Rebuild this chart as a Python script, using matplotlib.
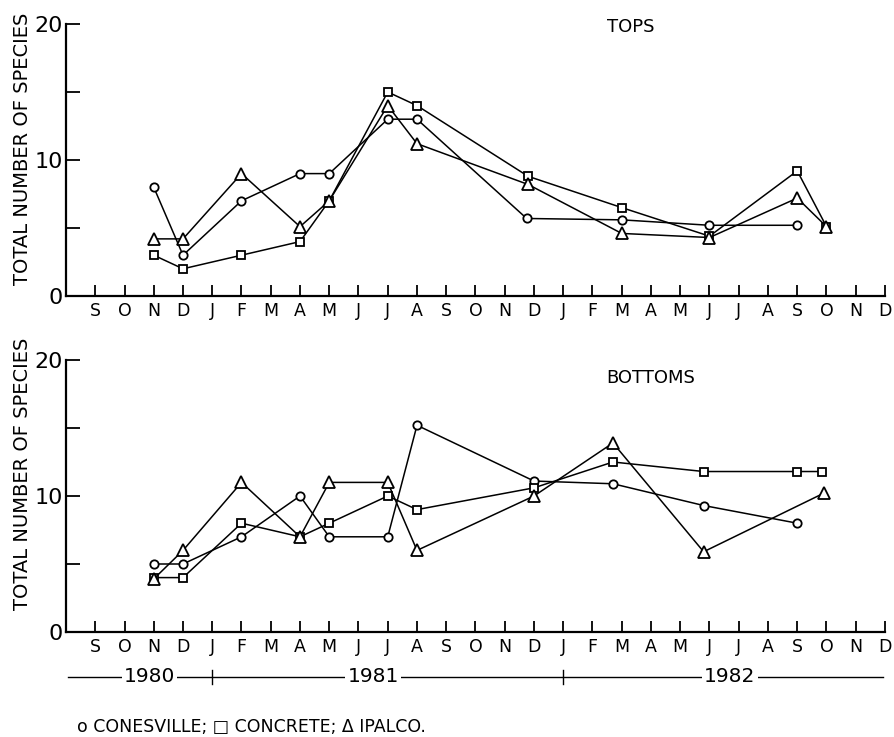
import numpy as np
import matplotlib
matplotlib.use("Agg")
import matplotlib.pyplot as plt

plt.rcParams['font.family'] = ['DejaVu Sans']

# month axis: Sep 1980 (index 0) .. Dec 1982 (index 27)
months = list("SONDJFMAMJJASONDJFMAMJJASOND")

# ---- TOPS ----
top_cones_x = [2, 3, 5, 7, 8, 10, 11, 14.75, 18, 21, 24]
top_cones_y = [8, 3, 7, 9, 9, 13, 13, 5.7, 5.6, 5.2, 5.2]
top_concr_x = [2, 3, 5, 7, 8, 10, 11, 14.8, 18, 21, 24, 25]
top_concr_y = [3, 2, 3, 4, 7, 15, 14, 8.8, 6.5, 4.4, 9.2, 5.1]
top_ipal_x = [2, 3, 5, 7, 8, 10, 11, 14.8, 18, 21, 24, 25]
top_ipal_y = [4.2, 4.2, 9, 5.1, 7, 14, 11.2, 8.2, 4.6, 4.3, 7.2, 5.1]

# ---- BOTTOMS ----
bot_cones_x = [2, 3, 5, 7, 8, 10, 11, 15, 17.7, 20.8, 24]
bot_cones_y = [5, 5, 7, 10, 7, 7, 15.2, 11.1, 10.9, 9.3, 8.0]
bot_concr_x = [2, 3, 5, 7, 8, 10, 11, 15, 17.7, 20.8, 24, 24.85]
bot_concr_y = [4, 4, 8, 7, 8, 10, 9, 10.6, 12.5, 11.8, 11.8, 11.8]
bot_ipal_x = [2, 3, 5, 7, 8, 10, 11, 15, 17.7, 20.8, 24.9]
bot_ipal_y = [3.9, 6, 11, 7, 11, 11, 6, 10, 13.9, 5.9, 10.2]

year_labels = ["1980", "1981", "1982"]
year_centers = [1.85, 9.5, 21.7]
year_breaks = [4, 16]

W, H = 895, 737
fig = plt.figure(figsize=(W / 100, H / 100), dpi=100)

def px_axes(left, top, right, bottom):
    return fig.add_axes([left / W, 1 - bottom / H, (right - left) / W, (bottom - top) / H])

ax1 = px_axes(66, 24, 885, 296)
ax2 = px_axes(66, 360, 885, 632)

def style(ax, title, title_xy, label_y):
    ax.set_xlim(-1, 27)
    ax.set_ylim(0, 20)
    for s in ("top", "right"):
        ax.spines[s].set_visible(False)
    for s in ("left", "bottom"):
        ax.spines[s].set_linewidth(1.6)
    ax.set_xticks(range(len(months)))
    ax.set_xticklabels(months, fontsize=12.5)
    ax.set_yticks([0, 5, 10, 15, 20])
    ax.set_yticklabels(["0", "", "10", "", "20"], fontsize=16)
    ax.tick_params(axis="x", direction="in", length=8, width=1.3, pad=4)
    ax.tick_params(axis="y", direction="in", length=10, width=1.3, pad=2)
    ax.set_ylabel("TOTAL NUMBER OF SPECIES", fontsize=14)
    ax.yaxis.set_label_coords(-0.042, label_y)
    ax.text(title_xy[0], title_xy[1], title, fontsize=13, ha="center", va="center",
            transform=ax.transData)

def plot_series(ax, x, y, marker, ms):
    ax.plot(x, y, color="black", lw=1.1, marker=marker, ms=ms, mfc="white",
            mec="black", mew=1.3, clip_on=False)

style(ax1, "TOPS", (18.3, 19.8), 0.54)
plot_series(ax1, top_cones_x, top_cones_y, "o", 6)
plot_series(ax1, top_concr_x, top_concr_y, "s", 6)
plot_series(ax1, top_ipal_x, top_ipal_y, "^", 8)

style(ax2, "BOTTOMS", (19.0, 18.7), 0.58)
plot_series(ax2, bot_cones_x, bot_cones_y, "o", 6)
plot_series(ax2, bot_concr_x, bot_concr_y, "s", 6)
plot_series(ax2, bot_ipal_x, bot_ipal_y, "^", 8)

# year bar below the bottom axis
trans = ax2.get_xaxis_transform()
ybar = -(677 - 632) / 272
ax2.plot([-0.93, 26.93], [ybar, ybar], color="black", lw=1.0, transform=trans, clip_on=False)
for xb in year_breaks:
    ax2.plot([xb, xb], [ybar - 0.024, ybar + 0.024], color="black", lw=1.0,
             transform=trans, clip_on=False)
for lab, xc in zip(year_labels, year_centers):
    ax2.text(xc, ybar, lab, fontsize=14.5, ha="center", va="center", transform=trans,
             bbox=dict(facecolor="white", edgecolor="none", pad=1.5))

fig.text(77 / W, 1 - 727 / H, "o CONESVILLE; \u25a1 CONCRETE; \u0394 IPALCO.",
         fontsize=12.5, ha="left", va="center")

fig.savefig("out.png", dpi=100, facecolor="white")
